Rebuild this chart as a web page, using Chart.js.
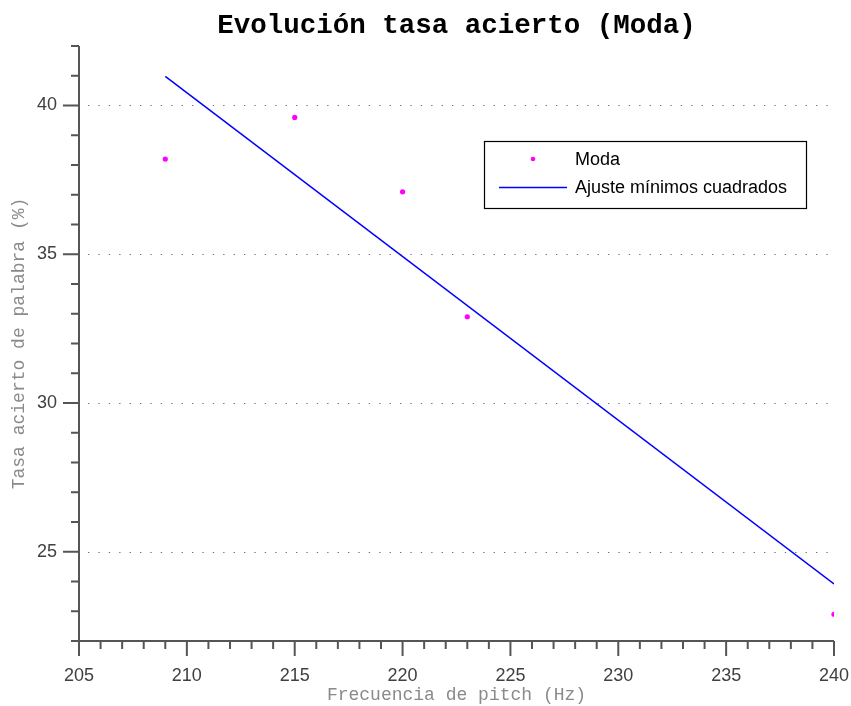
<!DOCTYPE html>
<html>
<head>
<meta charset="utf-8">
<title>Evolución tasa acierto (Moda)</title>
<script src="https://cdn.jsdelivr.net/npm/chart.js@4/dist/chart.umd.min.js"></script>
<style>
  html, body { margin: 0; padding: 0; background: #ffffff; }
  #wrap { width: 851px; height: 706px; }
</style>
</head>
<body>
<div id="wrap"><canvas id="grafico" width="851" height="706"></canvas></div>
<script>
// Frecuencia de pitch (Hz) y tasa de acierto de palabra (%) con la moda
const pitchHz = [209, 215, 220, 223, 240];
const aciertoModa = [38.2, 39.6, 37.1, 32.9, 22.9];

// Recta de ajuste por mínimos cuadrados (extremos)
const ajusteHz = [209, 240];
const ajusteAcierto = [40.98, 23.92];

// Marcas de los ejes
const xTicks = [205, 210, 215, 220, 225, 230, 235, 240];
const yTicks = [25, 30, 35, 40];
const xRange = [205, 240];
const yRange = [22, 42];

const AXIS = '#555555';
const TICK_TEXT = '#404040';
const LABEL_TEXT = '#8a8a8a';
const SANS = '"Liberation Sans", Arial, Helvetica, sans-serif';
const MONO = '"Liberation Mono", "Courier New", monospace';

// Ejes con marcas mayores y menores, y rejilla punteada horizontal
const ejesPlugin = {
  id: 'ejesOctave',
  beforeDatasetsDraw(chart) {
    const { ctx, chartArea, scales } = chart;
    const y = scales.y;
    ctx.save();
    ctx.strokeStyle = '#6e6e6e';
    ctx.lineWidth = 1;
    ctx.setLineDash([1.3, 9.1]);
    for (const v of yTicks) {
      const py = Math.round(y.getPixelForValue(v)) + 0.5;
      ctx.beginPath();
      ctx.moveTo(chartArea.left + 9, py);
      ctx.lineTo(chartArea.right, py);
      ctx.stroke();
    }
    ctx.restore();
  },
  afterDatasetsDraw(chart) {
    const { ctx, chartArea, scales } = chart;
    const x = scales.x, y = scales.y;
    const left = chartArea.left, bottom = chartArea.bottom;
    ctx.save();
    ctx.strokeStyle = AXIS;
    ctx.lineWidth = 2;
    ctx.setLineDash([]);
    ctx.beginPath();
    ctx.moveTo(left, chartArea.top);
    ctx.lineTo(left, bottom);
    ctx.lineTo(chartArea.right, bottom);
    ctx.stroke();
    // marcas del eje x (hacia abajo)
    for (let v = xRange[0]; v <= xRange[1]; v++) {
      const px = x.getPixelForValue(v);
      const len = (v % 5 === 0) ? 15 : 8;
      ctx.beginPath();
      ctx.moveTo(px, bottom);
      ctx.lineTo(px, bottom + len);
      ctx.stroke();
    }
    // marcas del eje y (hacia la izquierda)
    for (let v = yRange[0]; v <= yRange[1]; v++) {
      const py = y.getPixelForValue(v);
      const len = (v % 5 === 0) ? 16 : 8;
      ctx.beginPath();
      ctx.moveTo(left, py);
      ctx.lineTo(left - len, py);
      ctx.stroke();
    }
    ctx.restore();
  },
  afterDraw(chart) {
    // Leyenda dentro del área de trazado
    const { ctx, chartArea } = chart;
    const bx = chartArea.left + 405, by = chartArea.top + 95;
    const bw = 322, bh = 67;
    ctx.save();
    ctx.fillStyle = '#ffffff';
    ctx.fillRect(bx, by, bw, bh);
    ctx.strokeStyle = '#000000';
    ctx.lineWidth = 1.2;
    ctx.strokeRect(bx + 0.5, by + 0.5, bw, bh);
    const ds = chart.data.datasets;
    ctx.font = '18px ' + SANS;
    ctx.textBaseline = 'middle';
    ctx.textAlign = 'left';
    // fila 1: puntos
    ctx.fillStyle = ds[0].backgroundColor;
    ctx.beginPath();
    ctx.arc(bx + 49, by + 18, 2.3, 0, Math.PI * 2);
    ctx.fill();
    ctx.fillStyle = '#000000';
    ctx.fillText(ds[0].label, bx + 91, by + 19);
    // fila 2: recta
    ctx.strokeStyle = ds[1].borderColor;
    ctx.lineWidth = 1.4;
    ctx.beginPath();
    ctx.moveTo(bx + 15, by + 46.5);
    ctx.lineTo(bx + 83, by + 46.5);
    ctx.stroke();
    ctx.fillText(ds[1].label, bx + 91, by + 47);
    ctx.restore();
  }
};

new Chart(document.getElementById('grafico'), {
  type: 'scatter',
  data: {
    datasets: [
      {
        label: 'Moda',
        data: pitchHz.map((v, i) => ({ x: v, y: aciertoModa[i] })),
        backgroundColor: '#ff00ff',
        borderColor: '#ff00ff',
        pointRadius: 2.6,
        pointBorderWidth: 0,
        showLine: false
      },
      {
        label: 'Ajuste mínimos cuadrados',
        data: ajusteHz.map((v, i) => ({ x: v, y: ajusteAcierto[i] })),
        borderColor: '#0000ff',
        backgroundColor: '#0000ff',
        borderWidth: 1.5,
        pointRadius: 0,
        showLine: true,
        tension: 0
      }
    ]
  },
  plugins: [ejesPlugin],
  options: {
    responsive: false,
    animation: false,
    layout: { padding: { left: 0, right: 17, top: 0, bottom: 0 } },
    plugins: {
      legend: { display: false },
      tooltip: { enabled: false },
      title: {
        display: true,
        text: 'Evolución tasa acierto (Moda)',
        fullSize: false,
        color: '#000000',
        font: { family: MONO, size: 27.5, weight: 'bold' },
        padding: { top: 10, bottom: 3 }
      }
    },
    scales: {
      x: {
        type: 'linear',
        min: xRange[0],
        max: xRange[1],
        afterBuildTicks: s => { s.ticks = xTicks.map(v => ({ value: v })); },
        afterFit: s => { s.height = 65; s.paddingLeft = 0; s.paddingRight = 0; },
        grid: { display: false, drawTicks: false },
        border: { display: false },
        ticks: {
          color: TICK_TEXT,
          padding: 24,
          maxRotation: 0,
          font: { family: SANS, size: 18 }
        },
        title: {
          display: true,
          text: 'Frecuencia de pitch (Hz)',
          color: LABEL_TEXT,
          font: { family: MONO, size: 18 },
          padding: { top: 0, bottom: 0 }
        }
      },
      y: {
        type: 'linear',
        min: yRange[0],
        max: yRange[1],
        afterBuildTicks: s => { s.ticks = yTicks.map(v => ({ value: v })); },
        afterFit: s => { s.width = 79; s.paddingTop = 0; s.paddingBottom = 0; },
        grid: { display: false, drawTicks: false },
        border: { display: false },
        ticks: {
          color: TICK_TEXT,
          padding: 22,
          font: { family: SANS, size: 18 }
        },
        title: {
          display: true,
          text: 'Tasa acierto de palabra (%)',
          color: LABEL_TEXT,
          font: { family: MONO, size: 18 },
          padding: { top: 8, bottom: 0 }
        }
      }
    }
  }
});
</script>
</body>
</html>
